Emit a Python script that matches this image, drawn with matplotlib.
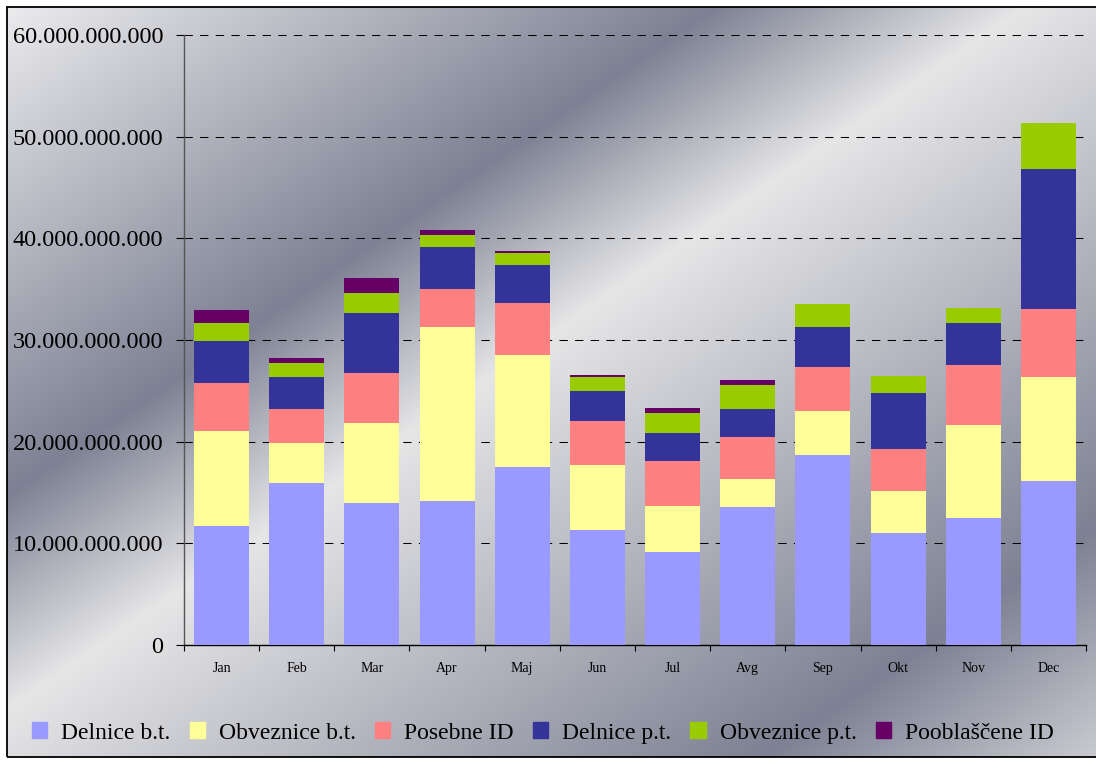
import matplotlib
matplotlib.use("Agg")
import matplotlib.pyplot as plt
import numpy as np
from matplotlib.patches import Rectangle

# monthly volumes (in billions, stacked bottom -> top)
months = ["Jan", "Feb", "Mar", "Apr", "Maj", "Jun", "Jul", "Avg", "Sep", "Okt", "Nov", "Dec"]
delnice_bt = [11.75, 15.89, 13.92, 14.12, 17.47, 11.36, 9.19, 13.53, 18.65, 10.97, 12.54, 16.09]
obveznice_bt = [9.27, 3.94, 7.88, 17.14, 11.03, 6.31, 4.53, 2.76, 4.34, 4.14, 9.06, 10.25]
posebne_id = [4.72, 3.35, 4.93, 3.74, 5.13, 4.33, 4.34, 4.13, 4.33, 4.13, 5.92, 6.70]
delnice_pt = [4.14, 3.15, 5.91, 4.14, 3.74, 2.96, 2.76, 2.76, 3.94, 5.52, 4.14, 13.79]
obveznice_pt = [1.78, 1.38, 1.97, 1.19, 1.19, 1.38, 1.97, 2.37, 2.27, 1.67, 1.47, 4.53]
pooblascene_id = [1.28, 0.50, 1.48, 0.49, 0.19, 0.20, 0.49, 0.49, 0.0, 0.0, 0.0, 0.0]

series_names = ["Delnice b.t.", "Obveznice b.t.", "Posebne ID",
                "Delnice p.t.", "Obveznice p.t.", "Pooblaščene ID"]
series_colors = ["#9999FF", "#FFFF99", "#FF8080", "#333399", "#99CC00", "#660066"]
series = [delnice_bt, obveznice_bt, posebne_id, delnice_pt, obveznice_pt, pooblascene_id]

plt.rcParams["font.family"] = ["Liberation Serif", "DejaVu Serif"]

W, H = 1096, 760
fig = plt.figure(figsize=(W / 100, H / 100), dpi=100)
fig.patch.set_facecolor("white")

# ------------------------------------------------------------ silver background
bx0, by0, bx1, by1 = 7, 7, W, 757          # pixel box of the framed area
bg = fig.add_axes([bx0 / W, (H - by1) / H, (bx1 - bx0) / W, (by1 - by0) / H])
xx, yy = np.meshgrid(np.arange(bx0, bx1), np.arange(by0, by1))
t = 0.69 * xx + yy
stops = [0, 500, 714, 1283, 1520]
light, dark = (238, 238, 239), (125, 129, 147)
cols = [light, dark, (230, 230, 231), dark, (204, 205, 211)]
img = np.stack([np.interp(t, stops, [c[i] for c in cols]) for i in range(3)], axis=-1) / 255
bg.imshow(img, aspect="auto", interpolation="bilinear")
bg.set_axis_off()
fig.add_artist(Rectangle((bx0 / W, (H - by1) / H), (bx1 - bx0 + 30) / W, (by1 - by0) / H,
                         transform=fig.transFigure, fill=False, edgecolor="black",
                         linewidth=1.3, zorder=10))

# ------------------------------------------------------------------ bar chart
ax = fig.add_axes([184 / W, (H - 645) / H, 902 / W, 610 / H])
ax.set_facecolor("none")
x = np.arange(len(months))
bottom = np.zeros(len(months))
for name, vals, c in zip(series_names, series, series_colors):
    v = np.array(vals) * 1e9
    ax.bar(x, v, bottom=bottom, width=0.73, color=c, label=name, zorder=3)
    bottom += v

ax.set_xlim(-0.5, len(months) - 0.5)
ax.set_ylim(0, 60e9)
ax.set_yticks(np.arange(0, 61e9, 10e9))
ax.set_yticklabels([f"{v:,.0f}".replace(",", ".") for v in np.arange(0, 61e9, 10e9)],
                   fontsize=17.5)
ax.tick_params(axis="y", direction="out", length=6, width=0.8, pad=9, color="black")
ax.yaxis.grid(True, color="black", linestyle=(0, (8, 7)), linewidth=0.75, zorder=1)

ax.set_xticks(np.arange(-0.5, len(months), 1))
ax.set_xticklabels([])
ax.set_xticks(x, minor=True)
ax.set_xticklabels(months, minor=True, fontsize=10)
ax.tick_params(axis="x", which="major", direction="out", length=4, width=0.8)
ax.tick_params(axis="x", which="minor", length=0, pad=12)

for s in ["top", "right"]:
    ax.spines[s].set_visible(False)
ax.spines["left"].set_color("#555555")
ax.spines["bottom"].set_color("black")
ax.spines["left"].set_linewidth(1.0)
ax.spines["bottom"].set_linewidth(1.0)

handles = [Rectangle((0, 0), 1, 1, color=c) for c in series_colors]
fig.legend(handles, series_names, loc="center", bbox_to_anchor=(543 / W, (H - 733) / H),
           ncol=6, frameon=False, fontsize=17, handlelength=0.65, handleheight=0.65,
           handletextpad=0.6, columnspacing=0.8)

fig.savefig("out.png", dpi=100)
